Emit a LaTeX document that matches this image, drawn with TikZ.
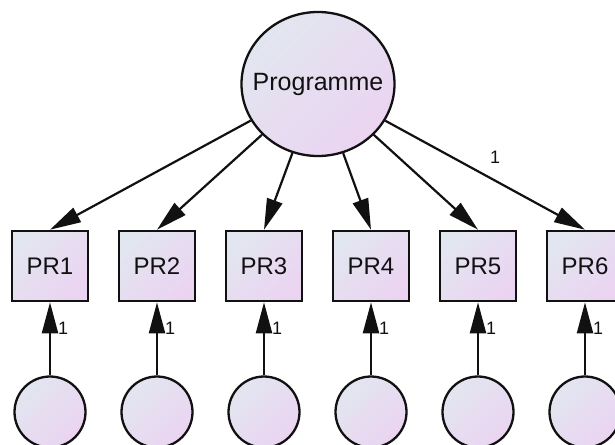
\documentclass[tikz,border=0pt]{standalone}
\usepackage{fontspec}
\setmainfont{Liberation Sans}
\usetikzlibrary{arrows.meta,shapes.geometric}

\definecolor{fillA}{HTML}{E2E6F0}
\definecolor{fillB}{HTML}{EBD4F1}
\definecolor{ink}{HTML}{111111}

\tikzset{
  shadefill/.style={top color=fillA, bottom color=fillB, shading angle=45},
  latent/.style={ellipse, draw=ink, line width=2.3pt, shadefill,
    minimum width=153pt, minimum height=144pt, inner sep=0pt},
  latent text/.style={font=\fontsize{25}{27}\selectfont, text=ink},
  observed/.style={rectangle, draw=ink, line width=2.6pt, shadefill,
    minimum width=76pt, minimum height=70pt, inner sep=0pt,
    text=ink, font=\fontsize{24}{26}\selectfont},
  errorvar/.style={circle, draw=ink, line width=2.3pt, shadefill,
    minimum size=71pt, inner sep=0pt},
  path arrow/.style={draw=ink, line width=2.2pt,
    -{Triangle[length=31pt,width=16pt]}},
  weight/.style={inner sep=0pt, text=ink, font=\fontsize{18}{20}\selectfont}
}

\begin{document}
\begin{tikzpicture}[x=1pt, y=-1pt]
  % page frame
  \useasboundingbox (0,0) rectangle (615,444);
  \begin{scope}
    \clip (0,0) rectangle (615,444);

    % latent factor
    \node[latent, label={[latent text]center:Programme}] (prog) at (318,84) {};

    % indicators and their error terms
    \foreach \i/\x in {1/50, 2/157, 3/264, 4/371, 5/478, 6/585} {
      \node[observed] (pr\i) at (\x,266) {PR\i};
      \node[errorvar] (e\i) at (\x,412) {};
    }

    % factor loadings
    \foreach \i in {1,...,5} {
      \draw[path arrow] (prog) -- (pr\i.north);
    }
    \draw[path arrow] (prog) -- (pr6.north)
      node[weight, pos=0.55, above=16pt] {1};

    % error paths
    \foreach \i in {1,...,6} {
      \draw[path arrow] (e\i) -- (pr\i)
        node[weight, pos=0.64, right=7pt] {1};
    }
  \end{scope}
\end{tikzpicture}
\end{document}
